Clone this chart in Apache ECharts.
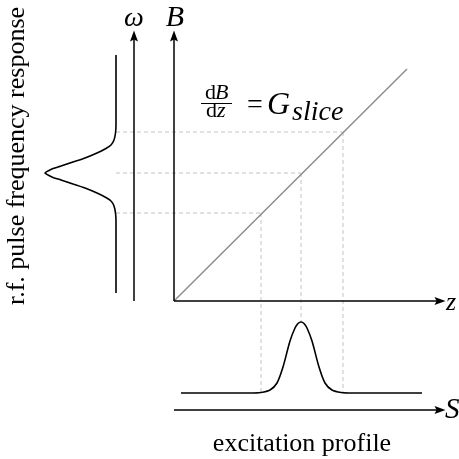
<!DOCTYPE html>
<html>
<head>
<meta charset="utf-8">
<script src="https://cdn.jsdelivr.net/npm/echarts@6/dist/echarts.min.js"></script>
<style>html,body{margin:0;padding:0;background:#fff}#c{width:459px;height:459px}</style>
</head>
<body>
<div id="c"></div>
<script>
// ---- data (arbitrary units; origin = corner of B / z axes) ----
const gradientLine = [[0, 0], [23.3, 23.2]];           // B = G_slice * z
const sliceZ = [8.7, 12.7, 16.9];                       // z positions of slice edges / centre
const sliceB = [8.8, 12.8, 16.9];                       // corresponding B values
const profileAtSlice = [-9.2, -2.1, -9.2];              // excitation profile height at sliceZ
const rfLineX = -5.8;                                   // r.f. response baseline x
const rfCurve = [
  [-5.8, 24.6], [-5.8, 19.0], [-5.8, 17.6], [-5.85, 16.8], [-6.0, 16.1], [-6.3, 15.6],
  [-6.9, 15.2], [-7.7, 14.8], [-8.9, 14.3], [-10.1, 13.9], [-11.3, 13.5], [-12.1, 13.25],
  [-12.6, 13.0], [-12.9, 12.8],
  [-12.6, 12.6], [-12.1, 12.35], [-11.3, 12.1], [-10.1, 11.7], [-8.9, 11.3], [-7.7, 10.8],
  [-6.9, 10.4], [-6.3, 10.0], [-6.0, 9.5], [-5.85, 8.8], [-5.8, 8.0], [-5.8, 6.6], [-5.8, 0.8]
];
const profileCurve = [
  [0.7, -9.2], [7.5, -9.2], [8.7, -9.15], [9.6, -8.9], [10.3, -8.2], [10.9, -6.6], [11.6, -4.0],
  [12.1, -2.7], [12.4, -2.25], [12.7, -2.1], [13.0, -2.25], [13.3, -2.7], [13.8, -4.0],
  [14.5, -6.6], [15.1, -8.2], [15.8, -8.9], [16.7, -9.15], [17.9, -9.2], [24.8, -9.2]
];
const omegaAxisX = -4.0;
const verticalAxisTop = 26.5;
const horizontalAxisEnd = 26.6;
const sAxisY = -10.9;
const labels = {
  omega: 'ω', B: 'B', z: 'z', S: 'S',
  rf: 'r.f. pulse frequency response',
  profile: 'excitation profile'
};

const chart = echarts.init(document.getElementById('c'), null, {renderer: 'canvas'});
const guideStyle = {color: '#c4c4c4', width: 1, type: [4, 3]};
const guideSeries = [];
sliceZ.forEach((z, i) => {
  guideSeries.push({type: 'line', data: [[rfLineX, sliceB[i]], [z, sliceB[i]]], symbol: 'none', lineStyle: guideStyle, silent: true, z: 1});
  guideSeries.push({type: 'line', data: [[z, sliceB[i]], [z, profileAtSlice[i]]], symbol: 'none', lineStyle: guideStyle, silent: true, z: 1});
});

const arrowSym = 'path://M5,0 L10,13 L5,10.5 L0,13 Z';
const axisLines = [
  [[0, 0], [0, verticalAxisTop]],
  [[omegaAxisX, 0], [omegaAxisX, verticalAxisTop]],
  [[0, 0], [horizontalAxisEnd, 0]],
  [[0, sAxisY], [horizontalAxisEnd, sAxisY]]
];

const serif = '"Liberation Serif", "DejaVu Serif", serif';
function txt(x, y, text, font, align, valign, extra) {
  return Object.assign({
    type: 'text', x: x, y: y,
    style: {text: text, font: font, fill: '#000', align: align || 'center', verticalAlign: valign || 'middle',
            textAlign: align || 'center', textVerticalAlign: valign || 'middle'}
  }, extra || {});
}

chart.setOption({
  animation: false,
  backgroundColor: '#fff',
  grid: {left: 0, right: 0, top: 0, bottom: 0},
  xAxis: {type: 'value', min: -17.4, max: 28.5, show: false},
  yAxis: {type: 'value', min: -15.8, max: 30.1, show: false},
  series: [
    ...guideSeries,
    {type: 'line', data: gradientLine, symbol: 'none', lineStyle: {color: '#8a8a8a', width: 1.4}, z: 2},
    {type: 'line', data: rfCurve, symbol: 'none', smooth: 0.3, lineStyle: {color: '#000', width: 1.6}, z: 3},
    {type: 'line', data: profileCurve, symbol: 'none', smooth: 0.3, lineStyle: {color: '#000', width: 1.6}, z: 3},
    {type: 'line', data: [], z: 4,
     markLine: {
       silent: true, animation: false,
       symbol: ['none', arrowSym], symbolSize: [8, 11],
       label: {show: false},
       lineStyle: {color: '#000', width: 1.5, type: 'solid'},
       emphasis: {disabled: true},
       data: axisLines.map(seg => [{coord: seg[0]}, {coord: seg[1]}])
     }}
  ],
  graphic: [
    txt(134, 18.5, labels.omega, 'italic 28px ' + serif),
    txt(175, 18, labels.B, 'italic 30px ' + serif),
    txt(446, 303, labels.z, 'italic 26px ' + serif, 'left'),
    txt(445, 410, labels.S, 'italic 29px ' + serif, 'left'),
    txt(17, 156, labels.rf, '26px ' + serif, 'center', 'middle', {rotation: Math.PI / 2}),
    txt(302, 444, labels.profile, '26px ' + serif),
    // equation dB/dz = G_slice
    txt(216, 93, 'd', '22px ' + serif, 'right'),
    txt(215, 93, 'B', 'italic 22px ' + serif, 'left'),
    {type: 'line', shape: {x1: 201, y1: 103.5, x2: 232, y2: 103.5}, style: {stroke: '#000', lineWidth: 1}},
    txt(217, 111, 'd', '22px ' + serif, 'right'),
    txt(217, 111, 'z', 'italic 22px ' + serif, 'left'),
    txt(255, 106, '=', '28px ' + serif),
    txt(267, 106, 'G', 'italic 32px ' + serif, 'left'),
    txt(292, 113, 'slice', 'italic 28px ' + serif, 'left')
  ]
});
</script>
</body>
</html>
